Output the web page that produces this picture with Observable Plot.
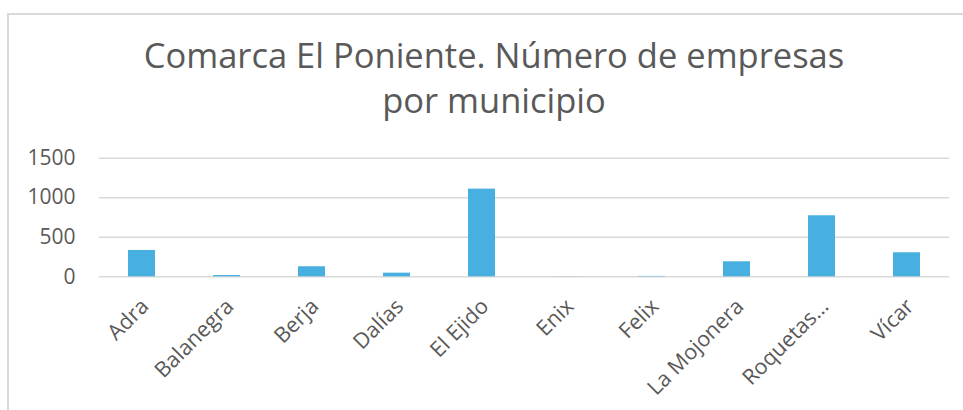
<!DOCTYPE html>
<html>
<head>
<meta charset="utf-8">
<script src="https://cdn.jsdelivr.net/npm/d3@7"></script>
<script src="https://cdn.jsdelivr.net/npm/@observablehq/plot@0.6"></script>
<style>
  html, body { margin: 0; padding: 0; background: #fff; }
  body { width: 963px; height: 410px; overflow: hidden; position: relative; font-family: "Open Sans", sans-serif; }
  #frame { position: absolute; left: 7px; top: 13px; width: 960px; height: 400px; border-left: 2px solid #d9d9d9; border-top: 2px solid #d9d9d9; pointer-events: none; }
  #title { position: relative; box-sizing: border-box; height: 140px; padding-top: 32px; padding-left: 25px; width: 963px; text-align: center; font-size: 34.5px; line-height: 45px; color: #595959; }
  #chart { position: relative; }
  #chart svg { display: block; }
</style>
</head>
<body>
<div id="frame"></div>
<div id="title">Comarca El Poniente. Número de empresas<br>por municipio</div>
<div id="chart"></div>
<script>
const categories = ["Adra", "Balanegra", "Berja", "Dalías", "El Ejido", "Enix", "Felix", "La Mojonera", "Roquetas de Mar", "Vícar"];
const tickLabels = ["Adra", "Balanegra", "Berja", "Dalías", "El Ejido", "Enix", "Felix", "La Mojonera", "Roquetas…", "Vícar"];
const empresas = [333, 16, 127, 46, 1109, 1, 5, 190, 772, 304];
const yTicks = [0, 500, 1000, 1500];

const data = categories.map((c, i) => ({municipio: c, empresas: empresas[i]}));
const labelOf = new Map(categories.map((c, i) => [c, tickLabels[i]]));

const chart = Plot.plot({
  width: 963,
  height: 270,
  marginTop: 17.7,
  marginBottom: 133.7,
  marginLeft: 99,
  marginRight: 14,
  style: {fontFamily: "'Open Sans', sans-serif", color: "#595959", background: "transparent"},
  x: {domain: categories, paddingInner: 0.687, paddingOuter: 0.3435, axis: null},
  y: {domain: [0, 1500], axis: null},
  marks: [
    Plot.ruleY(yTicks, {stroke: "#d9d9d9", strokeWidth: 1.5}),
    Plot.barY(data, {x: "municipio", y: "empresas", fill: "#47b0e0"}),
    Plot.axisY({ticks: yTicks, label: null, tickSize: 0, tickPadding: 24, fontSize: 21, fill: "#595959", tickFormat: d => String(d)}),
    Plot.text(categories, {x: d => d, text: d => labelOf.get(d), frameAnchor: "bottom", dy: 26, dx: 3, rotate: -45, textAnchor: "end", lineAnchor: "middle", fontSize: 21.5, fill: "#595959"})
  ]
});
document.getElementById("chart").appendChild(chart);
</script>
</body>
</html>
